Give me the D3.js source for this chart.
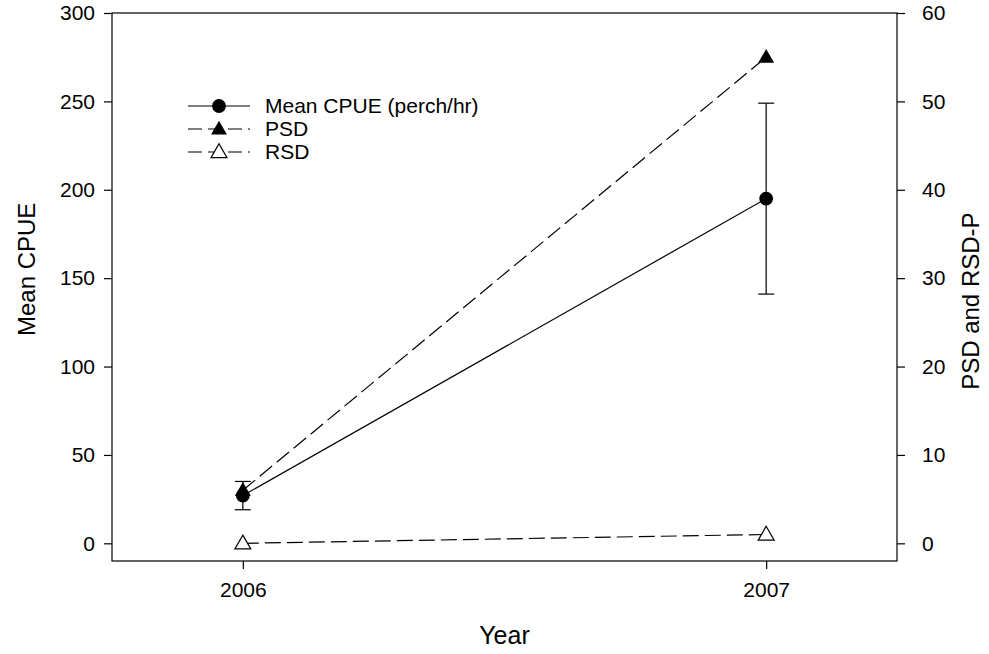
<!DOCTYPE html>
<html>
<head>
<meta charset="utf-8">
<script src="https://cdn.jsdelivr.net/npm/d3@7"></script>
<style>
  html, body { margin: 0; padding: 0; background: #fff; }
  text { font-family: "Liberation Sans", Arial, sans-serif; fill: #000; }
</style>
</head>
<body>
<svg id="chart" width="989" height="654"></svg>
<script>
// Yearly perch survey summary
const years = [2006, 2007];
const cpueMean = [27, 195];      // mean CPUE (perch/hr)
const cpueErr = [8, 54];         // error bar half-width
const psd = [6, 55];             // PSD (right axis)
const rsd = [0, 1];              // RSD-P (right axis)

const leftTicks = [0, 50, 100, 150, 200, 250, 300];
const rightTicks = [0, 10, 20, 30, 40, 50, 60];
const xTicks = [2006, 2007];

const legendLabels = ["Mean CPUE (perch/hr)", "PSD", "RSD"];

const svg = d3.select("#chart");
const frame = { left: 112, right: 897, top: 13, bottom: 561 };

const x = d3.scaleLinear().domain([2005.75, 2007.25]).range([frame.left, frame.right]);
const yL = d3.scaleLinear().domain([-10, 300]).range([frame.bottom, frame.top]);
const yR = d3.scaleLinear().domain([-2, 60]).range([frame.bottom, frame.top]);

const tickFont = "21px";

// frame
svg.append("rect")
  .attr("x", frame.left).attr("y", frame.top)
  .attr("width", frame.right - frame.left).attr("height", frame.bottom - frame.top)
  .attr("fill", "none").attr("stroke", "#000").attr("stroke-width", 1.2);

// axes
const axL = svg.append("g").attr("transform", `translate(${frame.left},0)`)
  .call(d3.axisLeft(yL).tickValues(leftTicks).tickSize(8).tickPadding(9));
const axR = svg.append("g").attr("transform", `translate(${frame.right},0)`)
  .call(d3.axisRight(yR).tickValues(rightTicks).tickSize(8).tickPadding(17));
const axX = svg.append("g").attr("transform", `translate(0,${frame.bottom})`)
  .call(d3.axisBottom(x).tickValues(xTicks).tickFormat(d3.format("d")).tickSize(8).tickPadding(13));

[axL, axR, axX].forEach(g => {
  g.select(".domain").remove();
  g.selectAll(".tick line").attr("stroke", "#000").attr("stroke-width", 1.2);
  g.selectAll(".tick text").attr("font-size", tickFont)
    .attr("font-family", "'Liberation Sans', Arial, sans-serif").attr("fill", "#000");
});

// axis titles
svg.append("text").attr("x", (frame.left + frame.right) / 2).attr("y", 644)
  .attr("text-anchor", "middle").attr("font-size", "25px").text("Year");
svg.append("text").attr("transform", `translate(35,${yL(155)}) rotate(-90)`)
  .attr("text-anchor", "middle").attr("font-size", "24px").text("Mean CPUE");
svg.append("text").attr("transform", `translate(979,${yL(137)}) rotate(-90)`)
  .attr("text-anchor", "middle").attr("font-size", "24px").text("PSD and RSD-P");

const lineStroke = 1.2;
const dash = "16,6";
const triPath = d3.symbol().type(d3.symbolTriangle).size(110);
const circPath = d3.symbol().type(d3.symbolCircle).size(150);

// PSD series
svg.append("path")
  .datum(years.map((yr, i) => [x(yr), yR(psd[i])]))
  .attr("d", d3.line()).attr("fill", "none").attr("stroke", "#000")
  .attr("stroke-width", lineStroke).attr("stroke-dasharray", dash);

// RSD series
svg.append("path")
  .datum(years.map((yr, i) => [x(yr), yR(rsd[i])]))
  .attr("d", d3.line()).attr("fill", "none").attr("stroke", "#000")
  .attr("stroke-width", lineStroke).attr("stroke-dasharray", dash);

// CPUE series
svg.append("path")
  .datum(years.map((yr, i) => [x(yr), yL(cpueMean[i])]))
  .attr("d", d3.line()).attr("fill", "none").attr("stroke", "#000")
  .attr("stroke-width", lineStroke);

// CPUE error bars
const eb = svg.append("g");
years.forEach((yr, i) => {
  const cx = x(yr), hi = yL(cpueMean[i] + cpueErr[i]), lo = yL(cpueMean[i] - cpueErr[i]);
  eb.append("line").attr("x1", cx).attr("x2", cx).attr("y1", hi).attr("y2", lo)
    .attr("stroke", "#000").attr("stroke-width", lineStroke);
  [hi, lo].forEach(yy => eb.append("line").attr("x1", cx - 8).attr("x2", cx + 8)
    .attr("y1", yy).attr("y2", yy).attr("stroke", "#000").attr("stroke-width", lineStroke));
});

// markers
svg.append("g").selectAll("path").data(years).join("path")
  .attr("transform", (d, i) => `translate(${x(d)},${yR(rsd[i]) + 1})`)
  .attr("d", triPath).attr("fill", "#fff").attr("stroke", "#000").attr("stroke-width", 1.2);
svg.append("g").selectAll("path").data(years).join("path")
  .attr("transform", (d, i) => `translate(${x(d)},${yR(psd[i]) + 1})`)
  .attr("d", triPath).attr("fill", "#000");
svg.append("g").selectAll("path").data(years).join("path")
  .attr("transform", (d, i) => `translate(${x(d)},${yL(cpueMean[i])})`)
  .attr("d", circPath).attr("fill", "#000");

// legend
const legend = svg.append("g");
const lx0 = 188, lx1 = 250, lcx = 219, ltx = 265;
const rowY = [106, 129, 152];
legendLabels.forEach((lab, i) => {
  const y = rowY[i];
  legend.append("line").attr("x1", lx0).attr("x2", lx1).attr("y1", y).attr("y2", y)
    .attr("stroke", "#000").attr("stroke-width", lineStroke)
    .attr("stroke-dasharray", i === 0 ? null : "14,6");
  if (i === 0) legend.append("path").attr("transform", `translate(${lcx},${y})`).attr("d", circPath).attr("fill", "#000");
  if (i === 1) legend.append("path").attr("transform", `translate(${lcx},${y + 1})`).attr("d", triPath).attr("fill", "#000");
  if (i === 2) legend.append("path").attr("transform", `translate(${lcx},${y + 1})`).attr("d", triPath)
    .attr("fill", "#fff").attr("stroke", "#000").attr("stroke-width", 1.2);
  legend.append("text").attr("x", ltx).attr("y", y).attr("dy", "0.35em")
    .attr("font-size", "21px").text(lab);
});
</script>
</body>
</html>
